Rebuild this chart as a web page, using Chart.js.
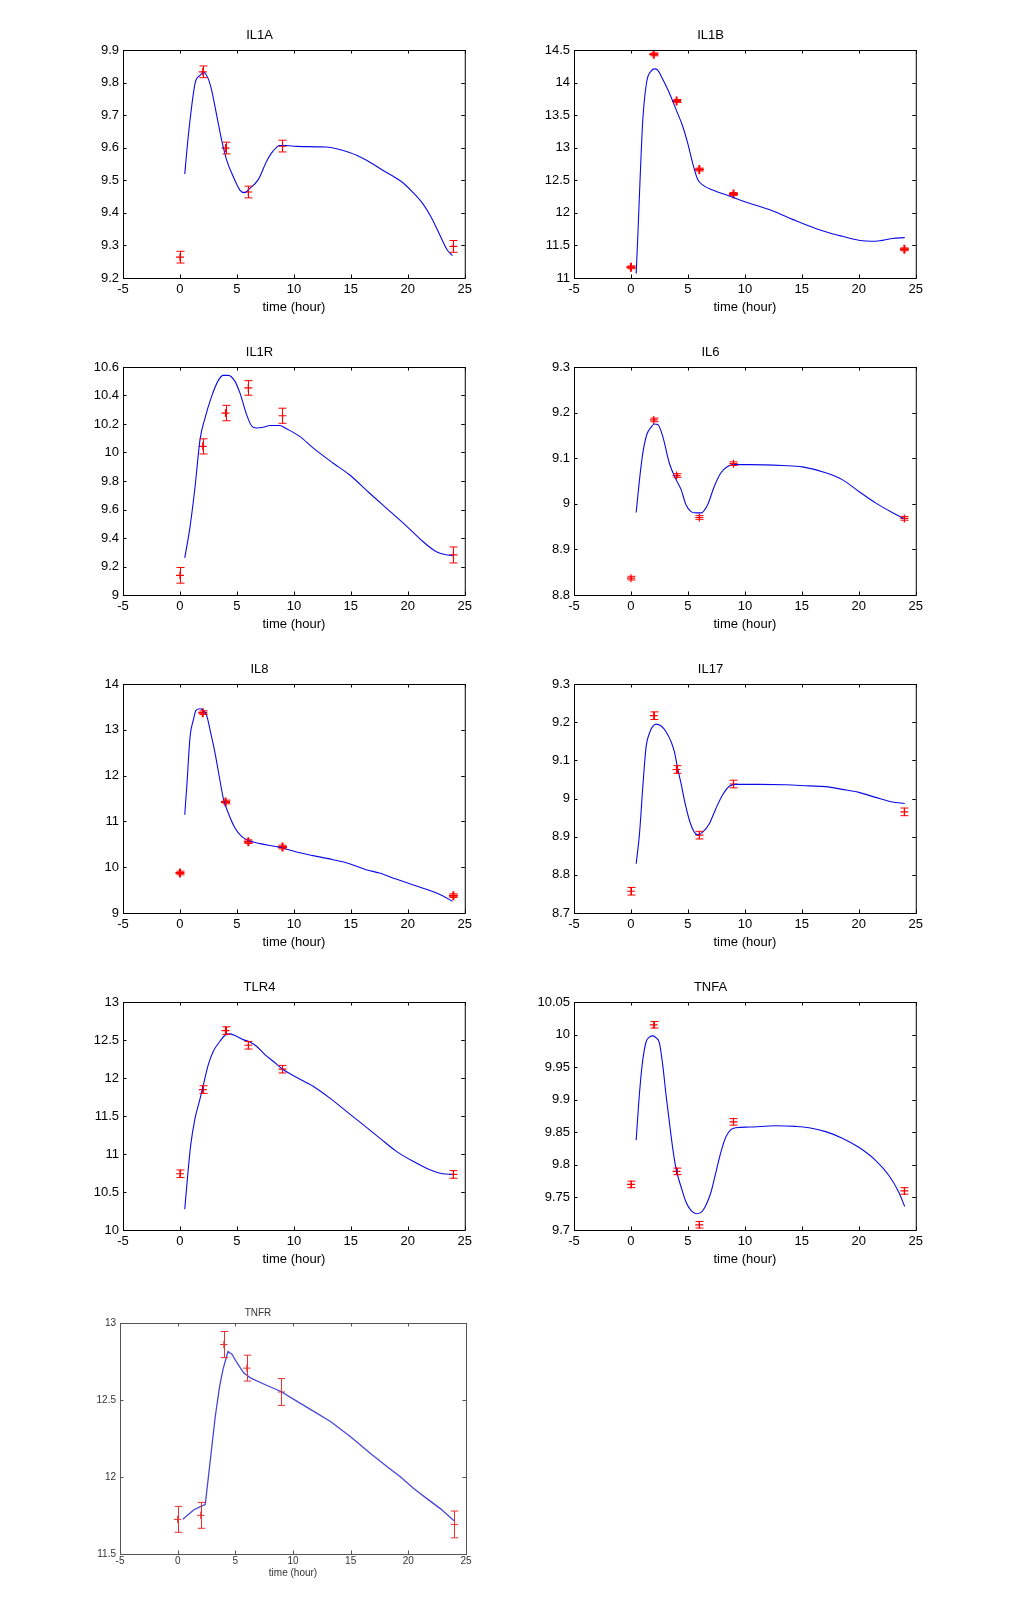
<!DOCTYPE html>
<html>
<head>
<meta charset="utf-8">
<script src="https://cdn.jsdelivr.net/npm/chart.js@4.4.1/dist/chart.umd.min.js"></script>
<style>
  html, body { margin: 0; padding: 0; background: #ffffff; }
  body { width: 1014px; height: 1616px; position: relative; overflow: hidden; }
  canvas { position: absolute; }
</style>
</head>
<body>
<script>
// ---------- data ----------
const times = [0, 2, 4, 6, 9, 24];
const xTicks = [-5, 0, 5, 10, 15, 20, 25];
const xLabel = 'time (hour)';

// IL1A
const il1aMean = [9.264, 9.833, 9.599, 9.464, 9.605, 9.297];
const il1aErr = [0.018, 0.018, 0.018, 0.018, 0.018, 0.018];
const il1aFitT = [0.42, 0.74, 1.33, 1.76, 2.05, 2.43, 2.78, 3.22, 3.66, 4.10, 4.68, 5.26, 5.64, 6.14, 6.87, 7.59, 8.18, 8.76, 9.34, 10.2, 12.84, 14.88, 16.34, 17.80, 19.40, 20.42, 21.30, 22.03, 22.76, 23.48, 23.92];
const il1aFitY = [9.519, 9.639, 9.798, 9.822, 9.831, 9.816, 9.777, 9.700, 9.623, 9.562, 9.511, 9.470, 9.462, 9.475, 9.502, 9.557, 9.590, 9.607, 9.607, 9.604, 9.602, 9.585, 9.562, 9.531, 9.497, 9.464, 9.429, 9.388, 9.336, 9.285, 9.269];
const il1aTicks = [9.2, 9.3, 9.4, 9.5, 9.6, 9.7, 9.8, 9.9];

// IL1B
const il1bMean = [11.164, 14.433, 13.718, 12.665, 12.29, 11.44];
const il1bErr = [0.022, 0.022, 0.022, 0.022, 0.022, 0.022];
const il1bFitT = [0.457, 0.60, 0.81, 1.04, 1.39, 1.77, 2.06, 2.35, 2.79, 3.37, 3.96, 4.54, 4.98, 5.42, 5.85, 6.29, 7.17, 8.63, 10.0, 12.13, 14.17, 16.21, 17.67, 18.55, 20.0, 21.47, 22.93, 24.03];
const il1bFitY = [11.067, 11.632, 12.557, 13.43, 14.02, 14.176, 14.21, 14.19, 14.05, 13.84, 13.585, 13.33, 13.07, 12.76, 12.516, 12.43, 12.35, 12.26, 12.17, 12.05, 11.90, 11.76, 11.68, 11.64, 11.58, 11.565, 11.606, 11.62];
const il1bTicks = [11, 11.5, 12, 12.5, 13, 13.5, 14, 14.5];

// IL1R
const il1rMean = [9.138, 10.043, 10.277, 10.453, 10.258, 9.281];
const il1rErr = [0.055, 0.053, 0.054, 0.051, 0.053, 0.056];
const il1rFitT = [0.42, 0.89, 1.33, 1.76, 2.20, 2.78, 3.37, 3.80, 4.24, 4.83, 5.26, 5.85, 6.28, 6.72, 7.30, 7.89, 8.76, 9.34, 10.51, 11.68, 13.43, 14.88, 16.63, 18.09, 19.84, 21.30, 22.46, 23.34, 23.92];
const il1rFitY = [9.26, 9.482, 9.763, 10.09, 10.242, 10.394, 10.506, 10.541, 10.541, 10.499, 10.418, 10.266, 10.188, 10.172, 10.177, 10.19, 10.19, 10.167, 10.113, 10.032, 9.926, 9.844, 9.716, 9.611, 9.487, 9.377, 9.306, 9.283, 9.278];
const il1rTicks = [9, 9.2, 9.4, 9.6, 9.8, 10, 10.2, 10.4, 10.6];

// IL6
const il6Mean = [8.837, 9.184, 9.062, 8.970, 9.088, 8.968];
const il6Err = [0.004, 0.004, 0.004, 0.004, 0.004, 0.004];
const il6FitT = [0.457, 0.75, 1.04, 1.39, 1.77, 2.06, 2.35, 2.79, 3.37, 3.96, 4.40, 4.83, 5.27, 5.71, 6.15, 6.73, 7.31, 7.90, 8.48, 9.06, 10.38, 13.3, 15.05, 17.09, 18.55, 20.0, 21.47, 22.93, 23.95];
const il6FitY = [8.981, 9.053, 9.111, 9.152, 9.168, 9.175, 9.174, 9.148, 9.089, 9.053, 9.031, 8.998, 8.983, 8.98, 8.98, 8.998, 9.038, 9.068, 9.082, 9.086, 9.086, 9.084, 9.081, 9.068, 9.053, 9.027, 9.002, 8.981, 8.968];
const il6Ticks = [8.8, 8.9, 9, 9.1, 9.2, 9.3];

// IL8
const il8Mean = [9.873, 13.374, 11.424, 10.557, 10.441, 9.378];
const il8Err = [0.04, 0.04, 0.04, 0.04, 0.04, 0.04];
const il8FitT = [0.42, 0.6, 0.89, 1.18, 1.41, 1.76, 2.06, 2.35, 2.70, 3.08, 3.45, 3.80, 4.24, 4.83, 5.41, 6.0, 7.01, 8.76, 10.22, 11.68, 13.43, 14.88, 16.34, 17.51, 18.97, 20.42, 21.88, 23.05, 23.92];
const il8FitY = [11.147, 11.766, 12.857, 13.22, 13.425, 13.46, 13.425, 13.309, 12.93, 12.493, 11.98, 11.51, 11.183, 10.856, 10.674, 10.587, 10.514, 10.434, 10.332, 10.252, 10.164, 10.077, 9.946, 9.873, 9.742, 9.619, 9.495, 9.378, 9.255];
const il8Ticks = [9, 10, 11, 12, 13, 14];

// IL17
const il17Mean = [8.757, 9.217, 9.076, 8.904, 9.038, 8.965];
const il17Err = [0.010, 0.010, 0.010, 0.010, 0.010, 0.010];
const il17FitT = [0.457, 0.75, 1.04, 1.33, 1.62, 1.91, 2.21, 2.65, 3.08, 3.52, 3.81, 4.10, 4.40, 4.69, 5.13, 5.56, 5.86, 6.29, 6.88, 7.46, 8.04, 8.63, 9.21, 11.25, 13.59, 15.63, 17.09, 18.55, 20.0, 21.47, 22.93, 24.03];
const il17FitY = [8.829, 8.908, 9.031, 9.136, 9.171, 9.189, 9.195, 9.190, 9.175, 9.149, 9.123, 9.079, 9.039, 8.996, 8.943, 8.912, 8.905, 8.912, 8.934, 8.974, 9.009, 9.032, 9.037, 9.037, 9.036, 9.033, 9.031, 9.024, 9.016, 9.003, 8.991, 8.987];
const il17Ticks = [8.7, 8.8, 8.9, 9, 9.1, 9.2, 9.3];

// TLR4
const tlr4Mean = [10.740, 11.848, 12.624, 12.431, 12.116, 10.731];
const tlr4Err = [0.05, 0.05, 0.05, 0.05, 0.05, 0.05];
const tlr4FitT = [0.42, 0.66, 0.95, 1.33, 1.71, 2.06, 2.49, 2.93, 3.51, 3.95, 4.39, 4.97, 5.55, 6.14, 6.72, 7.45, 8.18, 9.05, 10.22, 11.68, 13.13, 14.59, 16.05, 17.51, 18.97, 20.42, 21.88, 23.05, 23.92];
const tlr4FitY = [10.272, 10.688, 11.126, 11.476, 11.695, 11.914, 12.177, 12.352, 12.484, 12.563, 12.58, 12.549, 12.505, 12.475, 12.418, 12.308, 12.22, 12.111, 12.01, 11.892, 11.739, 11.564, 11.389, 11.213, 11.038, 10.907, 10.797, 10.74, 10.731];
const tlr4Ticks = [10, 10.5, 11, 11.5, 12, 12.5, 13];

// TNFA
const tnfaMean = [9.770, 10.015, 9.790, 9.708, 9.866, 9.760];
const tnfaErr = [0.005, 0.005, 0.005, 0.005, 0.005, 0.005];
const tnfaFitT = [0.457, 0.69, 0.98, 1.33, 1.62, 1.92, 2.21, 2.50, 2.79, 3.08, 3.37, 3.67, 3.96, 4.40, 4.83, 5.27, 5.71, 6.15, 6.58, 7.02, 7.46, 7.90, 8.34, 8.77, 9.21, 10.38, 12.71, 14.46, 15.63, 17.09, 18.55, 20.0, 21.47, 22.63, 23.51, 24.03];
const tnfaFitY = [9.838, 9.897, 9.953, 9.989, 9.996, 9.998, 9.995, 9.987, 9.953, 9.907, 9.866, 9.825, 9.794, 9.766, 9.743, 9.730, 9.725, 9.727, 9.738, 9.758, 9.789, 9.820, 9.843, 9.854, 9.857, 9.858, 9.860, 9.859, 9.857, 9.851, 9.841, 9.827, 9.807, 9.784, 9.758, 9.736];
const tnfaTicks = [9.7, 9.75, 9.8, 9.85, 9.9, 9.95, 10, 10.05];

// TNFR
const tnfrMean = [11.725, 11.751, 12.860, 12.707, 12.552, 11.692];
const tnfrErr = [0.084, 0.084, 0.085, 0.084, 0.087, 0.087];
const tnfrFitT = [0.45, 1.38, 1.96, 2.39, 2.83, 3.26, 3.64, 3.93, 4.36, 4.71, 5.14, 5.72, 6.30, 7.75, 8.91, 10.36, 11.80, 13.25, 14.99, 16.72, 18.17, 19.33, 20.49, 21.64, 22.80, 23.96];
const tnfrFitY = [11.725, 11.786, 11.808, 11.821, 12.109, 12.393, 12.59, 12.699, 12.814, 12.797, 12.742, 12.677, 12.644, 12.594, 12.557, 12.491, 12.426, 12.36, 12.262, 12.153, 12.066, 12.0, 11.924, 11.858, 11.793, 11.716];
const tnfrTicks = [11.5, 12, 12.5, 13];

// ---------- layout / style (not data) ----------
const FONT = "'Liberation Sans', Arial, Helvetica, sans-serif";
const mainStyle = { font: 13, text: '#000000', axis: '#000000', line: '#0a0ae6', lineW: 1.1, red: '#ff0000', cap: 4, marker: 4, markerW: 1.2, tension: 'monotone',
  titlePad: { top: 9, bottom: 8 }, tickPadX: 4, tickPadY: 4, xTitlePadBottom: 13 };
const boldStyle = Object.assign({}, mainStyle, { marker: 4.5, markerW: 2 });
const tnfrStyle = { font: 10, text: '#333333', axis: '#555555', line: '#4848d8', lineW: 1.3, red: '#e83030', cap: 3.7, marker: 3.7, markerW: 1, tension: 'linear',
  titlePad: { top: 15, bottom: 5 }, tickPadX: 1, tickPadY: 4, xTitlePadBottom: 25 };

const panels = [
  { name: 'IL1A', mean: il1aMean, err: il1aErr, fitT: il1aFitT, fitY: il1aFitY, yTicks: il1aTicks, box: [123, 50, 343, 228], style: mainStyle },
  { name: 'IL1B', mean: il1bMean, err: il1bErr, fitT: il1bFitT, fitY: il1bFitY, yTicks: il1bTicks, box: [574, 50, 343, 228], style: boldStyle },
  { name: 'IL1R', mean: il1rMean, err: il1rErr, fitT: il1rFitT, fitY: il1rFitY, yTicks: il1rTicks, box: [123, 367, 343, 228], style: mainStyle },
  { name: 'IL6',  mean: il6Mean,  err: il6Err,  fitT: il6FitT,  fitY: il6FitY,  yTicks: il6Ticks,  box: [574, 367, 343, 228], style: mainStyle },
  { name: 'IL8',  mean: il8Mean,  err: il8Err,  fitT: il8FitT,  fitY: il8FitY,  yTicks: il8Ticks,  box: [123, 684, 343, 229], style: boldStyle },
  { name: 'IL17', mean: il17Mean, err: il17Err, fitT: il17FitT, fitY: il17FitY, yTicks: il17Ticks, box: [574, 684, 343, 229], style: mainStyle },
  { name: 'TLR4', mean: tlr4Mean, err: tlr4Err, fitT: tlr4FitT, fitY: tlr4FitY, yTicks: tlr4Ticks, box: [123, 1002, 343, 228], style: mainStyle },
  { name: 'TNFA', mean: tnfaMean, err: tnfaErr, fitT: tnfaFitT, fitY: tnfaFitY, yTicks: tnfaTicks, box: [574, 1002, 343, 228], style: mainStyle },
  { name: 'TNFR', mean: tnfrMean, err: tnfrErr, fitT: tnfrFitT, fitY: tnfrFitY, yTicks: tnfrTicks, box: [120, 1323, 346, 231], style: tnfrStyle }
];

const PAD_L = 70, PAD_T = 30, PAD_R = 10, PAD_B = 50;

// ---------- plugins ----------
const matlabAxes = {
  id: 'matlabAxes',
  afterDatasetsDraw(chart, args, opts) {
    const { ctx, chartArea: a, scales } = chart;
    const x = scales.x, y = scales.y;
    const L = opts.tickLen;
    ctx.save();
    ctx.strokeStyle = opts.color;
    ctx.lineWidth = 1;
    ctx.beginPath();
    x.ticks.forEach(t => {
      const px = Math.round(x.getPixelForValue(t.value)) + 0.5;
      ctx.moveTo(px, a.bottom); ctx.lineTo(px, a.bottom - L);
      ctx.moveTo(px, a.top); ctx.lineTo(px, a.top + L);
    });
    y.ticks.forEach(t => {
      const py = Math.round(y.getPixelForValue(t.value)) + 0.5;
      ctx.moveTo(a.left, py); ctx.lineTo(a.left + L, py);
      ctx.moveTo(a.right, py); ctx.lineTo(a.right - L, py);
    });
    ctx.stroke();
    ctx.strokeRect(a.left + 0.5, a.top + 0.5, a.right - a.left, a.bottom - a.top);
    ctx.restore();
  }
};

const errorBars = {
  id: 'errorBars',
  afterDatasetsDraw(chart, args, opts) {
    const { ctx, scales } = chart;
    const x = scales.x, y = scales.y;
    chart.data.datasets.forEach(ds => {
      if (!ds.errors) return;
      ctx.save();
      ctx.strokeStyle = opts.color;
      ctx.lineWidth = 1;
      ctx.beginPath();
      ds.data.forEach((p, j) => {
        const px = Math.round(x.getPixelForValue(p.x)) + 0.5;
        const yt = y.getPixelForValue(p.y + ds.errors[j]);
        const yb = y.getPixelForValue(p.y - ds.errors[j]);
        ctx.moveTo(px, yt); ctx.lineTo(px, yb);
        ctx.moveTo(px - opts.cap, yt); ctx.lineTo(px + opts.cap, yt);
        ctx.moveTo(px - opts.cap, yb); ctx.lineTo(px + opts.cap, yb);
      });
      ctx.stroke();
      ctx.restore();
    });
  }
};

function fmt(v) { return String(Math.round(v * 1000) / 1000); }

panels.forEach(p => {
  const s = p.style;
  const [bx, by, bw, bh] = p.box;
  const cv = document.createElement('canvas');
  const W = bw + PAD_L + PAD_R, H = bh + PAD_T + PAD_B;
  cv.width = W; cv.height = H;
  cv.style.left = (bx - PAD_L) + 'px';
  cv.style.top = (by - PAD_T) + 'px';
  cv.style.width = W + 'px';
  cv.style.height = H + 'px';
  document.body.appendChild(cv);

  const fitData = p.fitT.map((t, i) => ({ x: t, y: p.fitY[i] }));
  const ptData = times.map((t, i) => ({ x: t, y: p.mean[i] }));
  const yMin = p.yTicks[0], yMax = p.yTicks[p.yTicks.length - 1];

  new Chart(cv, {
    type: 'scatter',
    data: {
      datasets: [
        {
          type: 'line', label: p.name + ' fit', data: fitData, showLine: true,
          borderColor: s.line, borderWidth: s.lineW, pointRadius: 0, fill: false,
          cubicInterpolationMode: s.tension === 'monotone' ? 'monotone' : 'default',
          tension: s.tension === 'monotone' ? 0.4 : 0
        },
        {
          label: p.name, data: ptData, errors: p.err, pointStyle: 'cross',
          pointRadius: s.marker, borderColor: s.red, backgroundColor: s.red, borderWidth: s.markerW, showLine: false
        }
      ]
    },
    options: {
      responsive: false, animation: false, devicePixelRatio: 1,
      layout: { padding: { left: 0, right: PAD_R, top: 0, bottom: 0 } },
      plugins: {
        legend: { display: false },
        tooltip: { enabled: false },
        title: { display: true, text: p.name, color: s.text, font: { family: FONT, size: s.font, weight: 'normal', lineHeight: 1 }, padding: s.titlePad },
        matlabAxes: { color: s.axis, tickLen: 3.5 },
        errorBars: { color: s.red, cap: s.cap }
      },
      scales: {
        x: {
          type: 'linear', min: -5, max: 25,
          afterBuildTicks: sc => { sc.ticks = xTicks.map(v => ({ value: v })); },
          afterFit: sc => { sc.height = PAD_B; },
          grid: { display: false, drawTicks: false }, border: { display: false },
          ticks: { color: s.text, font: { family: FONT, size: s.font }, padding: s.tickPadX, maxRotation: 0, autoSkip: false, callback: v => fmt(v) },
          title: { display: true, text: xLabel, color: s.text, font: { family: FONT, size: s.font }, padding: { top: 0, bottom: s.xTitlePadBottom } }
        },
        y: {
          type: 'linear', min: yMin, max: yMax,
          afterBuildTicks: sc => { sc.ticks = p.yTicks.map(v => ({ value: v })); },
          afterFit: sc => { sc.width = PAD_L; },
          grid: { display: false, drawTicks: false }, border: { display: false },
          ticks: { color: s.text, font: { family: FONT, size: s.font }, padding: s.tickPadY, autoSkip: false, callback: v => fmt(v) }
        }
      }
    },
    plugins: [matlabAxes, errorBars]
  });
});
</script>
</body>
</html>
